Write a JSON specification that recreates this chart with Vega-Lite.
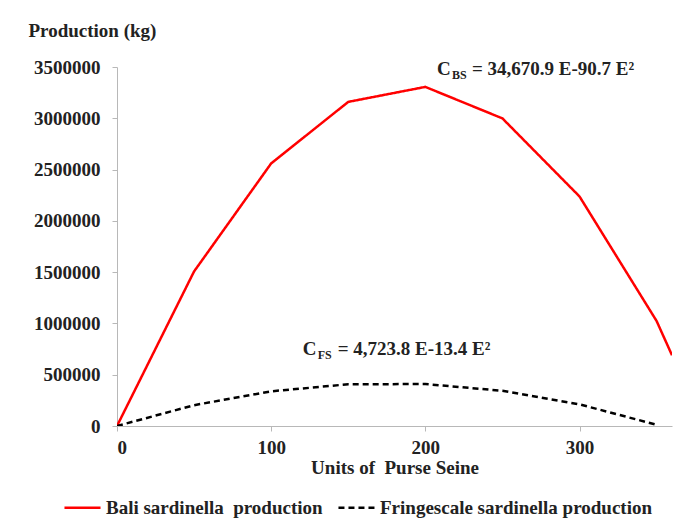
{
  "$schema": "https://vega.github.io/schema/vega-lite/v6.json",
  "width": 555,
  "height": 359,
  "autosize": "none",
  "padding": {"left": 117, "top": 67, "right": 15, "bottom": 98},
  "background": "white",
  "datasets": {
    "prod": [
      {"units": 0, "kg": 0, "species": "Bali sardinella  production"},
      {"units": 50, "kg": 1507000, "species": "Bali sardinella  production"},
      {"units": 100, "kg": 2560000, "species": "Bali sardinella  production"},
      {"units": 150, "kg": 3160000, "species": "Bali sardinella  production"},
      {"units": 200, "kg": 3306000, "species": "Bali sardinella  production"},
      {"units": 250, "kg": 2999000, "species": "Bali sardinella  production"},
      {"units": 300, "kg": 2238000, "species": "Bali sardinella  production"},
      {"units": 350, "kg": 1024000, "species": "Bali sardinella  production"},
      {"units": 360, "kg": 690000, "species": "Bali sardinella  production"},
      {"units": 0, "kg": 0, "species": "Fringescale sardinella production"},
      {"units": 50, "kg": 203000, "species": "Fringescale sardinella production"},
      {"units": 100, "kg": 338000, "species": "Fringescale sardinella production"},
      {"units": 150, "kg": 407000, "species": "Fringescale sardinella production"},
      {"units": 200, "kg": 409000, "species": "Fringescale sardinella production"},
      {"units": 250, "kg": 343000, "species": "Fringescale sardinella production"},
      {"units": 300, "kg": 211000, "species": "Fringescale sardinella production"},
      {"units": 350, "kg": 12000, "species": "Fringescale sardinella production"}
    ],
    "eq": [
      {"units": 207.5, "kg": 3425000, "sub": "BS", "rest": "= 34,670.9 E-90.7 E²"},
      {"units": 120.5, "kg": 692000, "sub": "FS", "rest": "= 4,723.8 E-13.4 E²"}
    ]
  },
  "layer": [
    {
      "data": {"name": "prod"},
      "mark": {"type": "line", "strokeWidth": 2.5, "clip": true},
      "encoding": {
        "x": {
          "field": "units",
          "type": "quantitative",
          "scale": {"domain": [0, 360], "nice": false},
          "axis": {"values": [0, 100, 200, 300], "title": "Units of\u00a0 Purse Seine"}
        },
        "y": {
          "field": "kg",
          "type": "quantitative",
          "scale": {"domain": [0, 3500000], "nice": false},
          "axis": {
            "values": [0, 500000, 1000000, 1500000, 2000000, 2500000, 3000000, 3500000],
            "format": "d",
            "title": "Production (kg)",
            "titleAngle": 0,
            "titleAlign": "left",
            "titleBaseline": "alphabetic",
            "titleX": -89,
            "titleY": -31
          }
        },
        "color": {
          "field": "species",
          "type": "nominal",
          "scale": {"range": ["#ff0000", "#000000"]},
          "legend": {
            "title": null,
            "orient": "none",
            "direction": "horizontal",
            "legendX": -54,
            "legendY": 421,
            "symbolType": "stroke",
            "symbolSize": 1300,
            "symbolStrokeWidth": 2.5,
            "columnPadding": 10,
            "labelFont": "Liberation Serif",
            "labelFontWeight": "bold",
            "labelFontSize": 19,
            "labelColor": "#222222",
            "labelLimit": 400,
            "labelOffset": 4,
            "labelExpr": "replace(datum.label, '  ', '\u00a0 ')"
          }
        },
        "strokeDash": {
          "field": "species",
          "type": "nominal",
          "scale": {"range": [[1, 0], [6, 4]]},
          "legend": null
        }
      }
    },
    {
      "data": {"name": "eq"},
      "mark": {"type": "text", "font": "Liberation Serif", "fontWeight": "bold", "fontSize": 19, "align": "left", "baseline": "alphabetic", "color": "#222222"},
      "encoding": {
        "x": {"field": "units", "type": "quantitative"},
        "y": {"field": "kg", "type": "quantitative"},
        "text": {"value": "C"}
      }
    },
    {
      "data": {"name": "eq"},
      "mark": {"type": "text", "font": "Liberation Serif", "fontWeight": "bold", "fontSize": 12, "align": "left", "baseline": "alphabetic", "dx": 15, "dy": 4, "color": "#222222"},
      "encoding": {
        "x": {"field": "units", "type": "quantitative"},
        "y": {"field": "kg", "type": "quantitative"},
        "text": {"field": "sub"}
      }
    },
    {
      "data": {"name": "eq"},
      "mark": {"type": "text", "font": "Liberation Serif", "fontWeight": "bold", "fontSize": 19, "align": "left", "baseline": "alphabetic", "dx": 35, "color": "#222222"},
      "encoding": {
        "x": {"field": "units", "type": "quantitative"},
        "y": {"field": "kg", "type": "quantitative"},
        "text": {"field": "rest"}
      }
    }
  ],
  "config": {
    "view": {"stroke": null},
    "font": "Liberation Serif",
    "axis": {
      "grid": false,
      "domainColor": "#b8b8b8",
      "tickColor": "#b8b8b8",
      "tickSize": 5,
      "labelFont": "Liberation Serif",
      "labelFontWeight": "bold",
      "labelFontSize": 19,
      "labelColor": "#222222",
      "titleFont": "Liberation Serif",
      "titleFontWeight": "bold",
      "titleFontSize": 19,
      "titleColor": "#222222"
    },
    "axisY": {"labelPadding": 12},
    "axisX": {"labelPadding": 7, "titlePadding": 1}
  }
}
